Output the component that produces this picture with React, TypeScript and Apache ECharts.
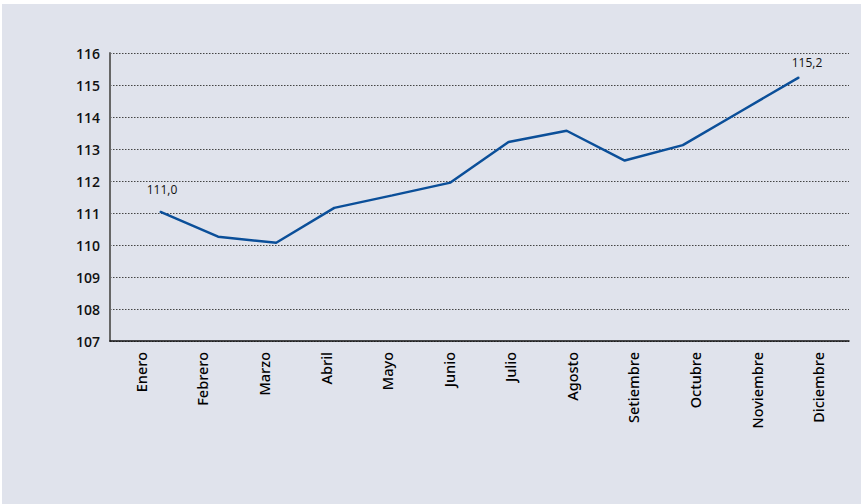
import React, { useEffect, useRef } from "react";
import * as echarts from "echarts";

const months = ["Enero", "Febrero", "Marzo", "Abril", "Mayo", "Junio", "Julio", "Agosto", "Setiembre", "Octubre", "Noviembre", "Diciembre"];
const values = [111.04, 110.26, 110.07, 111.16, 111.55, 111.95, 113.22, 113.57, 112.64, 113.12, 114.18, 115.24];
const labelledIdx = [0, 11];
const yMin = 107;
const yMax = 116;

export default function App() {
  const ref = useRef<HTMLDivElement>(null);
  useEffect(() => {
    document.body.style.margin = "0";
    const chart = echarts.init(ref.current!, null, { renderer: "svg" });
    const fmt = (v: number) => v.toFixed(1).replace(".", ",");
    const data = values.map((v, i) => ({ value: v, label: { show: labelledIdx.includes(i) } }));
    chart.setOption({
      animation: false,
      backgroundColor: "#ffffff",
      graphic: [
        { type: "rect", z: -10, shape: { x: 2, y: 4, width: 859, height: 500 }, style: { fill: "#e0e3ec" }, silent: true },
      ],
      grid: [
        { left: 110, right: 14, top: 53, bottom: 163 },
        { left: 160, right: 64, top: 53, bottom: 163 },
      ],
      xAxis: [
        {
          type: "category",
          gridIndex: 0,
          data: months,
          boundaryGap: true,
          axisLine: { lineStyle: { color: "#111", width: 1.5 } },
          axisTick: { show: false },
          axisLabel: {
            rotate: 90,
            margin: 11,
            color: "#000",
            fontSize: 14.5,
            fontWeight: 500,
            fontFamily: "Noto Sans",
            interval: 0,
          },
        },
        {
          type: "category",
          gridIndex: 1,
          data: months,
          boundaryGap: false,
          show: false,
        },
      ],
      yAxis: [
        {
          type: "value",
          gridIndex: 0,
          min: yMin,
          max: yMax,
          interval: 1,
          axisLine: { show: true, lineStyle: { color: "#666", width: 2 } },
          axisTick: { show: false },
          axisLabel: { color: "#111", fontSize: 14, fontWeight: 600, fontFamily: "Open Sans", margin: 10 },
          splitLine: { show: true, lineStyle: { color: "#444", type: [1.5, 1.5], width: 1 } },
        },
        {
          type: "value",
          gridIndex: 1,
          min: yMin,
          max: yMax,
          interval: 1,
          show: false,
          splitLine: { show: false },
        },
      ],
      series: [
        {
          type: "line",
          xAxisIndex: 1,
          yAxisIndex: 1,
          data,
          symbol: "circle",
          symbolSize: 1,
          showSymbol: true,
          showAllSymbol: true,
          itemStyle: { color: "#0b4f99" },
          lineStyle: { color: "#0b4f99", width: 2.5 },
          label: {
            show: true,
            position: "top",
            color: "#111",
            fontSize: 12,
            fontFamily: "Open Sans",
            formatter: (p: any) => fmt(p.value),
          },
          labelLayout: (p: any) => {
            if (p.dataIndex === 0) return { dx: 2, dy: -11, hideOverlap: false };
            return { dx: 8, dy: -3, hideOverlap: false };
          },
        },
      ],
    });
    return () => chart.dispose();
  }, []);
  return <div ref={ref} style={{ width: 863, height: 504 }} />;
}
